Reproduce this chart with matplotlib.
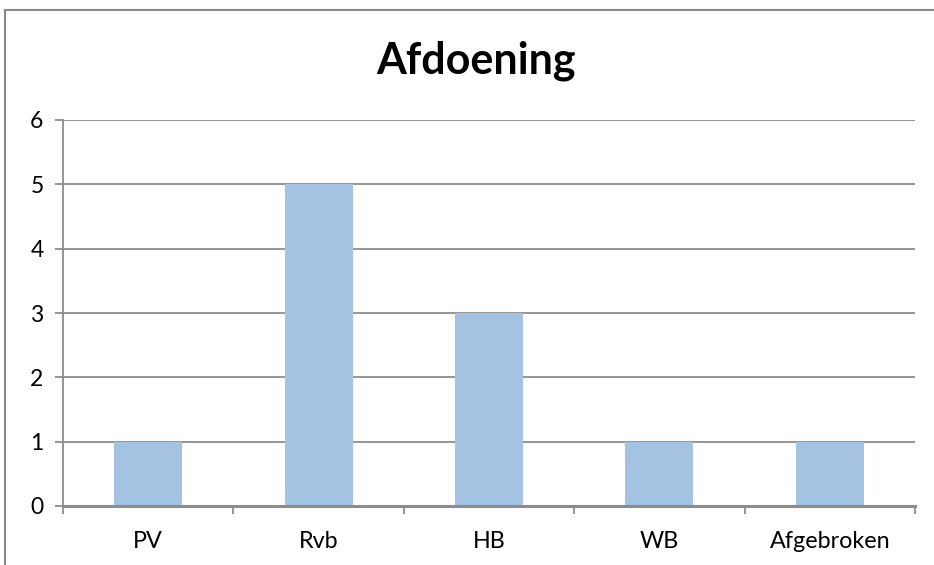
import matplotlib
matplotlib.use("Agg")
import matplotlib.pyplot as plt
from matplotlib.patches import Rectangle
import numpy as np

categories = ["PV", "Rvb", "HB", "WB", "Afgebroken"]
values = [1, 5, 3, 1, 1]
yticks = [0, 1, 2, 3, 4, 5, 6]
title = "Afdoening"

plt.rcParams['font.family'] = ['Lato', 'DejaVu Sans']

W, H = 934, 565
fig = plt.figure(figsize=(W / 100, H / 100), dpi=100)
ax = fig.add_axes([63 / W, (H - 506) / H, 852 / W, 386 / H])

x = np.arange(len(categories))
ax.bar(x, values, width=0.4, color="#A4C3E2", zorder=3)

ax.set_xlim(-0.5, len(categories) - 0.5)
ax.set_ylim(0, 6)
ax.set_yticks(yticks)
ax.set_yticklabels([str(v) for v in yticks], fontsize=16.5)
ax.yaxis.grid(True, color="#8C8C8C", linewidth=1.3, zorder=0)
ax.set_xticks(x)
ax.set_xticklabels(categories, fontsize=16.8)
ax.set_xticks(np.arange(-0.5, len(categories)), minor=True)
ax.tick_params(axis="x", which="major", length=0, pad=18)
ax.tick_params(axis="x", which="minor", length=6, width=1.3, color="#8C8C8C")
ax.tick_params(axis="y", length=6, width=1.3, color="#8C8C8C", pad=8)

for s in ["top", "right"]:
    ax.spines[s].set_visible(False)
ax.spines["left"].set_color("#8C8C8C")
ax.spines["left"].set_linewidth(1.3)
ax.spines["bottom"].set_color("#8C8C8C")
ax.spines["bottom"].set_linewidth(2.2)
ax.spines["bottom"].set_zorder(4)

fig.text(476 / W, 1 - 61 / H, title, ha="center", va="center",
         fontsize=31, fontweight="bold")

fig.patches.append(Rectangle((5 / W, -0.1), 1.2, 1.1 - 10 / H,
                             transform=fig.transFigure, fill=False,
                             edgecolor="#8A8A8A", linewidth=1.5))

fig.savefig("out.png", dpi=100)
